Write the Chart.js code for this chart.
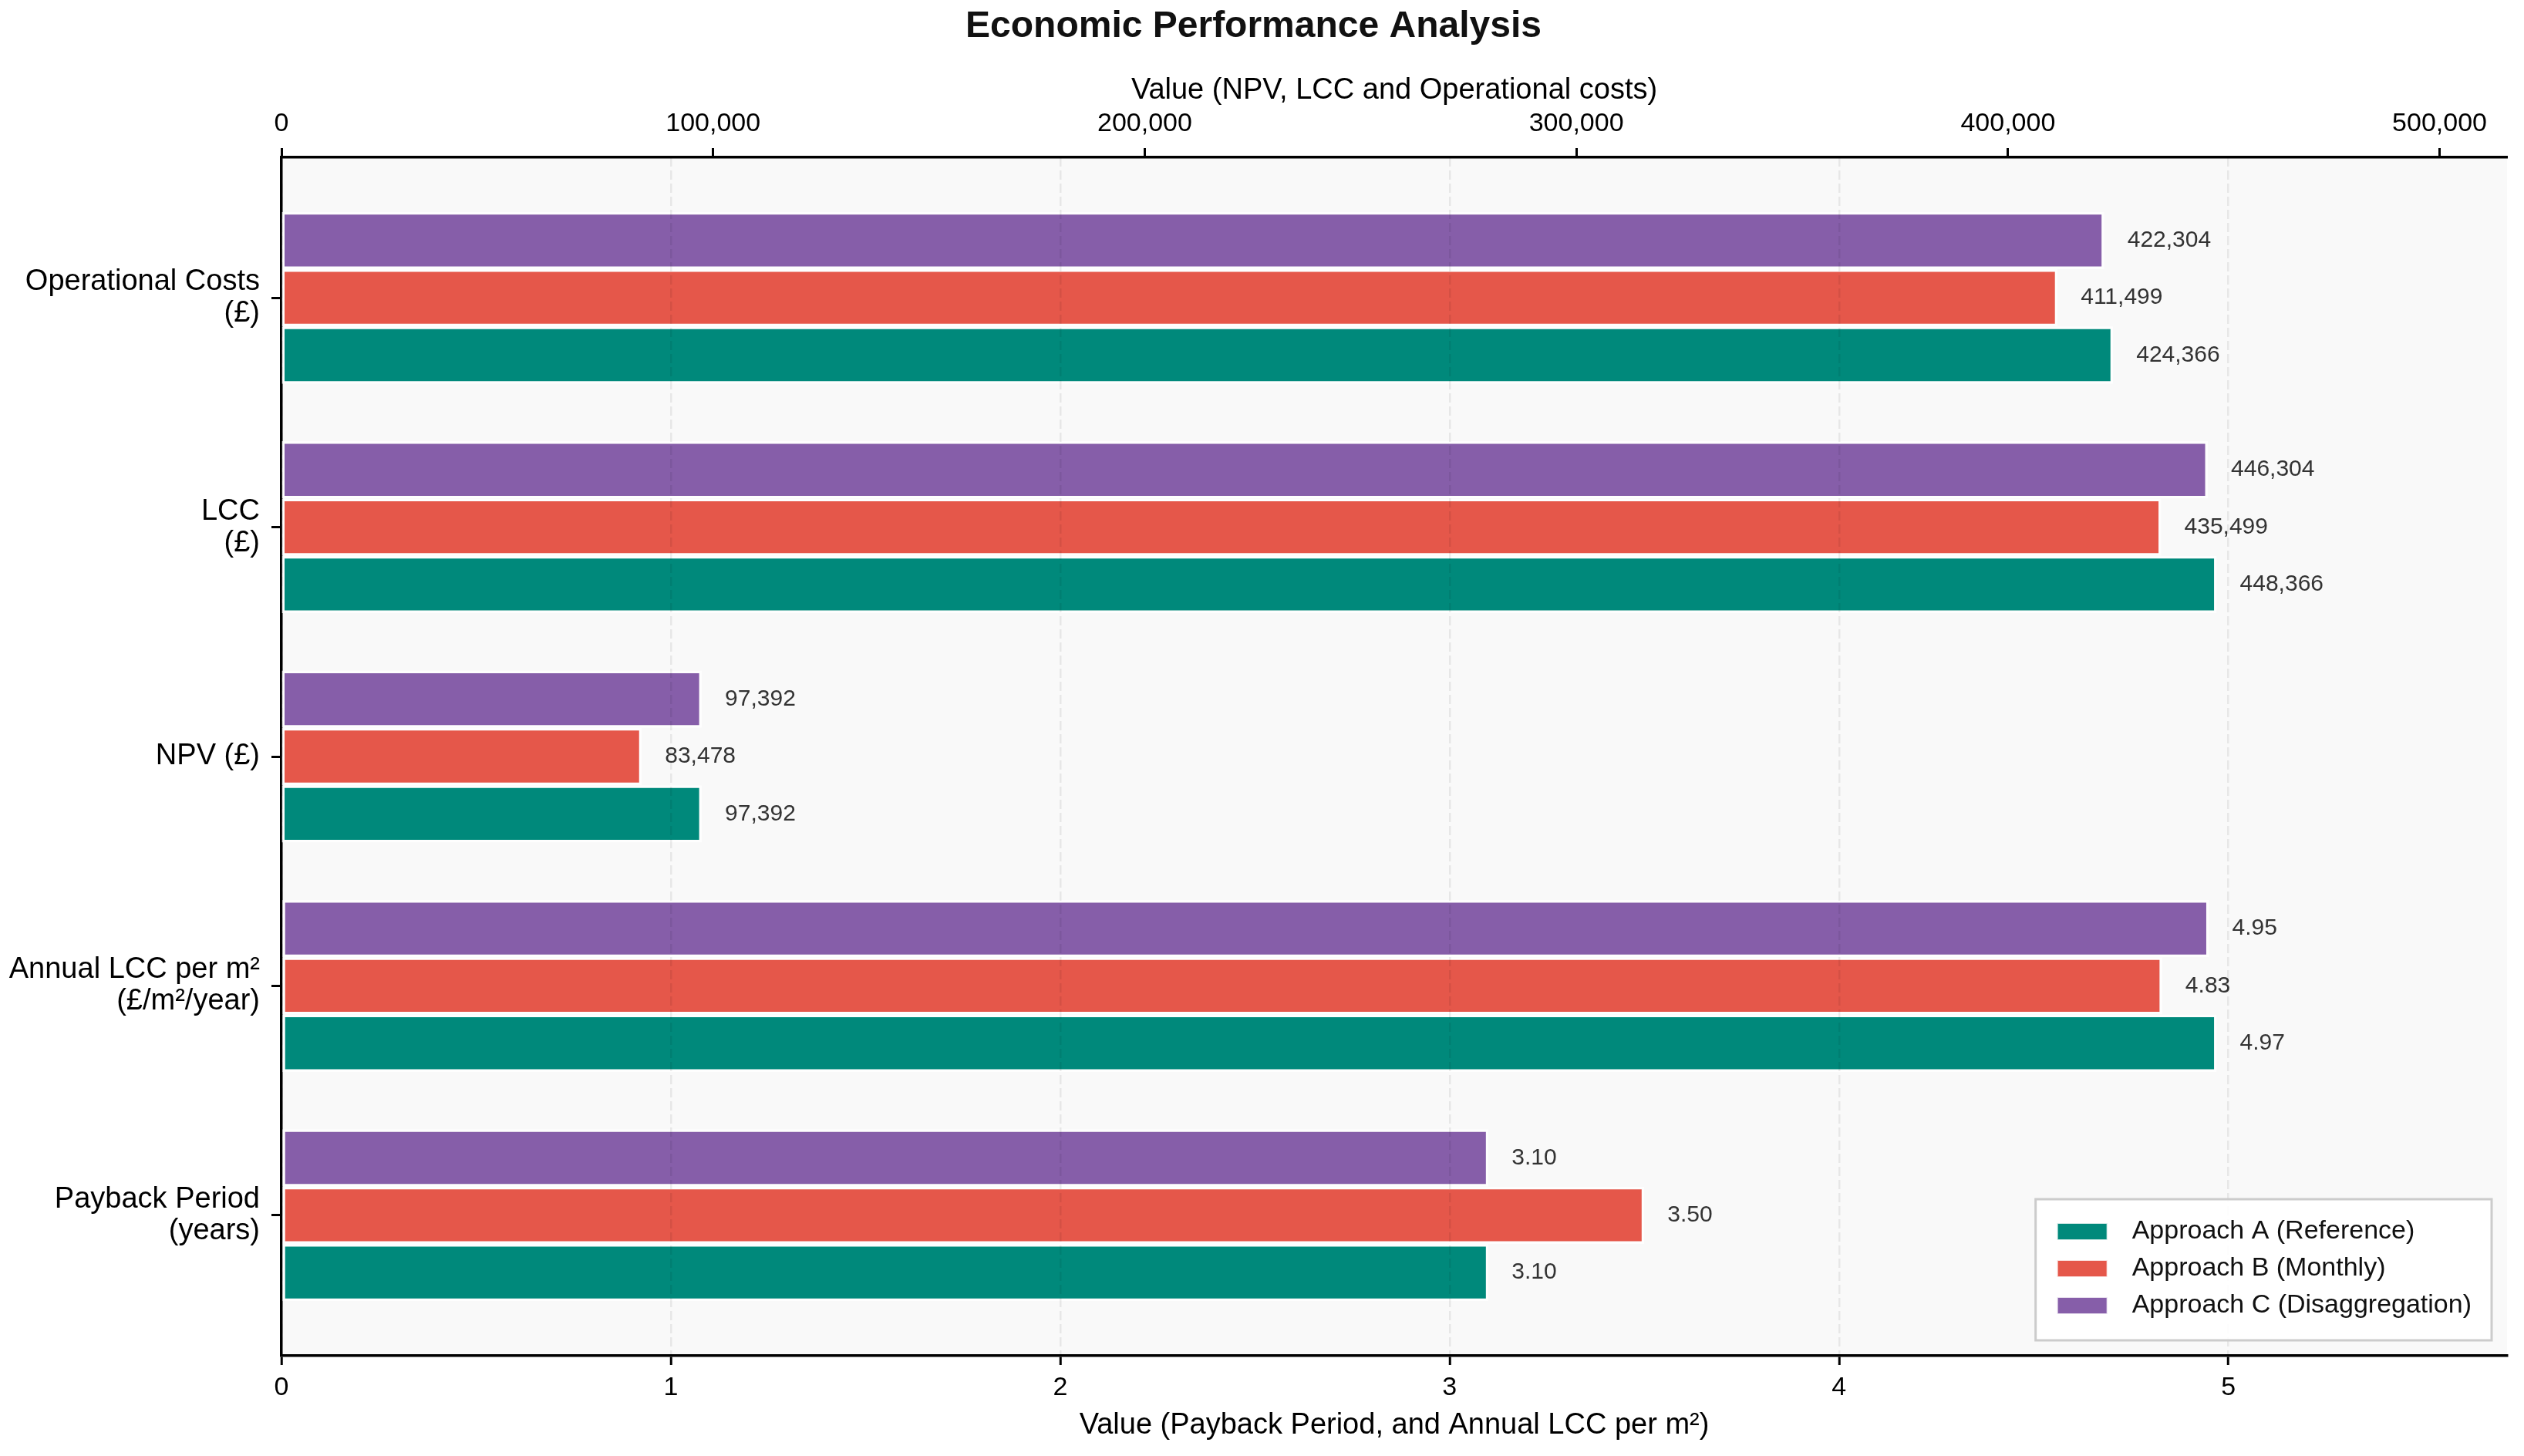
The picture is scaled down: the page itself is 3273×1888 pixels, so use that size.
<!DOCTYPE html>
<html>
<head>
<meta charset="utf-8">
<script src="https://cdn.jsdelivr.net/npm/chart.js@4.4.1/dist/chart.umd.min.js"></script>
<style>
  html, body { margin: 0; padding: 0; background: #fff; }
  #wrap { width: 3273px; height: 1888px; }
</style>
</head>
<body>
<div id="wrap"><canvas id="econ"></canvas></div>
<script>
const categories = [
  ['Operational Costs', '(£)'],
  ['LCC', '(£)'],
  ['NPV (£)'],
  ['Annual LCC per m²', '(£/m²/year)'],
  ['Payback Period', '(years)']
];
// rows read on the top (£) axis and rows read on the bottom axis
const moneyRows = [0, 1, 2];
const unitRows = [3, 4];

const approachA = [424366, 448366, 97392, 4.97, 3.10];
const approachB = [411499, 435499, 83478, 4.83, 3.50];
const approachC = [422304, 446304, 97392, 4.95, 3.10];

const seriesNames = ['Approach A (Reference)', 'Approach B (Monthly)', 'Approach C (Disaggregation)'];
const seriesColors = ['#00897b', '#e5574a', '#865ea9'];

const moneyTicks = [0, 100000, 200000, 300000, 400000, 500000];
const unitTicks = [0, 1, 2, 3, 4, 5];

const FONT = "'Liberation Sans', Arial, sans-serif";
Chart.defaults.font.family = FONT;
Chart.defaults.color = '#000';

const series = [approachA, approachB, approachC];
const moneyMax = Math.max(...series.flatMap(s => moneyRows.map(r => s[r]))) * 1.15;
const unitMax = Math.max(...series.flatMap(s => unitRows.map(r => s[r]))) * 1.15;

// one dataset per approach and axis; C first so it sits on top of each group
const datasets = [];
[[moneyRows, 'xTop'], [unitRows, 'x']].forEach(([rows, axis]) => {
  [2, 1, 0].forEach(s => {
    datasets.push({
      label: seriesNames[s],
      data: rows.map(r => ({ x: series[s][r], y: r })),
      xAxisID: axis,
      backgroundColor: seriesColors[s],
      borderColor: 'rgba(255,255,255,0.85)',
      borderWidth: 3.5,
      borderSkipped: false,
      skipNull: true,
      categoryPercentage: 0.75,
      barPercentage: 1.0
    });
  });
});

const plotBackground = {
  id: 'plotBackground',
  beforeDraw(chart) {
    const { ctx, chartArea: a } = chart;
    ctx.save();
    ctx.fillStyle = '#f9f9f9';
    ctx.fillRect(a.left, a.top, a.right - a.left, a.bottom - a.top);
    ctx.restore();
  }
};

const valueLabels = {
  id: 'valueLabels',
  afterDatasetsDraw(chart) {
    const ctx = chart.ctx;
    ctx.save();
    ctx.font = '30px ' + FONT;
    ctx.fillStyle = '#333';
    ctx.textAlign = 'left';
    ctx.textBaseline = 'middle';
    chart.data.datasets.forEach((ds, di) => {
      chart.getDatasetMeta(di).data.forEach((bar, i) => {
        const v = ds.data[i].x;
        const text = ds.xAxisID === 'xTop' ? v.toLocaleString('en-US') : v.toFixed(2);
        ctx.fillText(text, bar.x + 30, bar.y);
      });
    });
    ctx.restore();
  }
};

const boxLegend = {
  id: 'boxLegend',
  afterDraw(chart) {
    const { ctx, chartArea } = chart;
    ctx.save();
    ctx.font = '34px ' + FONT;
    const textW = Math.max(...seriesNames.map(n => ctx.measureText(n).width));
    const padX = 28, swW = 65, swH = 22, gap = 32, rowH = 48, padTop = 42, padBottom = 45;
    const w = padX + swW + gap + textW + 26;
    const h = padTop + rowH * (seriesNames.length - 1) + padBottom;
    const right = chartArea.right - 20, bottom = chartArea.bottom - 20;
    const left = right - w, top = bottom - h;
    ctx.fillStyle = 'rgba(255,255,255,0.9)';
    ctx.fillRect(left, top, w, h);
    ctx.strokeStyle = '#cccccc';
    ctx.lineWidth = 3;
    ctx.strokeRect(left, top, w, h);
    ctx.textBaseline = 'middle';
    ctx.textAlign = 'left';
    seriesNames.forEach((name, s) => {
      const cy = top + padTop + s * rowH;
      ctx.fillStyle = seriesColors[s];
      ctx.fillRect(left + padX, cy - swH / 2, swW, swH);
      ctx.strokeStyle = 'rgba(255,255,255,0.8)';
      ctx.lineWidth = 2;
      ctx.strokeRect(left + padX, cy - swH / 2, swW, swH);
      ctx.fillStyle = '#111';
      ctx.fillText(name, left + padX + swW + gap, cy);
    });
    ctx.restore();
  }
};

new Chart(document.getElementById('econ'), {
  type: 'bar',
  data: { datasets },
  options: {
    indexAxis: 'y',
    responsive: true,
    maintainAspectRatio: false,
    devicePixelRatio: 1,
    animation: false,
    layout: { padding: { left: 0, right: 22, top: 0, bottom: 0 } },
    plugins: {
      legend: { display: false },
      tooltip: { enabled: false },
      title: {
        display: true,
        text: 'Economic Performance Analysis',
        color: '#111',
        font: { size: 48, weight: 'bold', lineHeight: 1.2 },
        padding: { top: 6, bottom: 0 }
      }
    },
    scales: {
      y: {
        type: 'linear',
        reverse: true,
        min: -0.6125,
        max: 4.6125,
        offset: false,
        afterBuildTicks: s => { s.ticks = categories.map((c, i) => ({ value: i })); },
        afterFit: s => { s.width = 365; },
        ticks: {
          callback: v => categories[v],
          font: { size: 38, lineHeight: 1.08 },
          color: '#000',
          padding: 15
        },
        grid: { display: true, drawOnChartArea: false, offset: false, tickLength: 13, tickWidth: 3, tickColor: '#000' },
        border: { display: true, color: '#000', width: 3.5 }
      },
      xTop: {
        type: 'linear',
        position: 'top',
        min: 0,
        max: moneyMax,
        afterBuildTicks: s => { s.ticks = moneyTicks.map(v => ({ value: v })); },
        afterFit: s => { s.height = 140.4; },
        ticks: {
          callback: v => v.toLocaleString('en-US'),
          font: { size: 34, lineHeight: 1.2 },
          color: '#000',
          padding: 11,
          maxRotation: 0
        },
        title: {
          display: true,
          text: 'Value (NPV, LCC and Operational costs)',
          font: { size: 38, lineHeight: 1.2 },
          color: '#000',
          padding: { top: 31, bottom: 0 }
        },
        grid: { display: true, drawOnChartArea: false, tickLength: 12, tickWidth: 3, tickColor: '#000' },
        border: { display: true, color: '#000', width: 3.5 }
      },
      x: {
        type: 'linear',
        position: 'bottom',
        min: 0,
        max: unitMax,
        afterBuildTicks: s => { s.ticks = unitTicks.map(v => ({ value: v })); },
        afterFit: s => { s.height = 130; },
        ticks: {
          callback: v => String(v),
          font: { size: 34, lineHeight: 1.2 },
          color: '#000',
          padding: 9,
          maxRotation: 0
        },
        title: {
          display: true,
          text: 'Value (Payback Period, and Annual LCC per m²)',
          font: { size: 38, lineHeight: 1.2 },
          color: '#000',
          padding: { top: 0, bottom: 17 }
        },
        grid: { display: true, color: 'rgba(0,0,0,0.07)', lineWidth: 2.5, z: 1, tickLength: 12, tickWidth: 3, tickColor: '#000' },
        border: { display: true, color: '#000', width: 3.5, dash: [12, 5], z: 1 }
      }
    }
  },
  plugins: [plotBackground, valueLabels, boxLegend]
});
</script>
</body>
</html>
